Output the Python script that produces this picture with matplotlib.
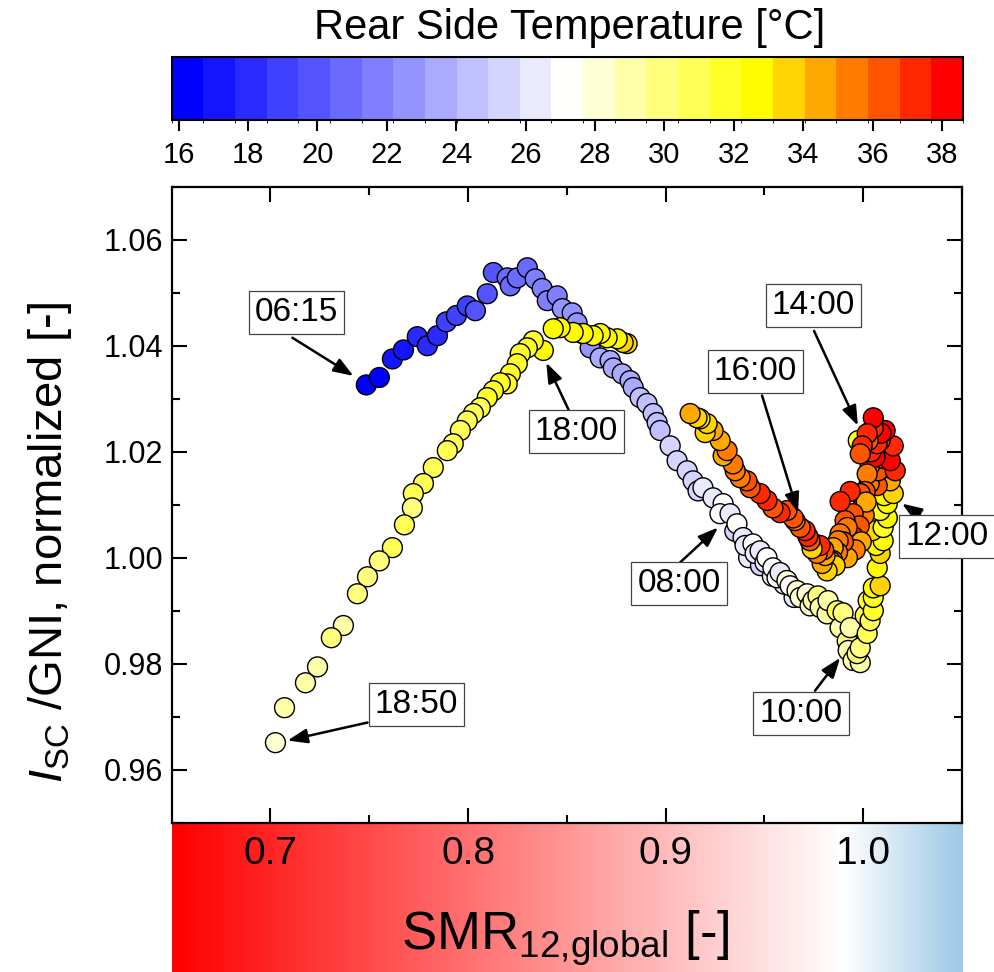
import numpy as np
import matplotlib
matplotlib.use("Agg")
import matplotlib.pyplot as plt
from matplotlib.colors import LinearSegmentedColormap, ListedColormap, BoundaryNorm
from matplotlib.cm import ScalarMappable

plt.rcParams['font.family'] = ['Liberation Sans', 'DejaVu Sans']
plt.rcParams['mathtext.fontset'] = 'custom'
plt.rcParams['mathtext.rm'] = 'Liberation Sans'
plt.rcParams['mathtext.it'] = 'Liberation Sans:italic'

# ---------------- data ----------------
# 06:15 - 08:00 (morning, cold)
smr_a = [0.7485, 0.7551, 0.7617, 0.7673, 0.7743, 0.7794, 0.7845, 0.7890, 0.7941, 0.7996,
         0.8037, 0.8097, 0.8128, 0.8198, 0.8214, 0.8249, 0.8300, 0.8340, 0.8375, 0.8401,
         0.8451, 0.8477, 0.8527, 0.8552, 0.8578, 0.8618, 0.8669, 0.8719, 0.8735, 0.8780,
         0.8820, 0.8836, 0.8871, 0.8906, 0.8937, 0.8957, 0.8972, 0.9023, 0.9058, 0.9109,
         0.9139, 0.9164, 0.9189, 0.9240, 0.9291]
isc_a = [1.0326, 1.0340, 1.0375, 1.0392, 1.0417, 1.0400, 1.0419, 1.0445, 1.0457, 1.0475,
         1.0466, 1.0498, 1.0538, 1.0528, 1.0513, 1.0528, 1.0547, 1.0526, 1.0508, 1.0485,
         1.0494, 1.0470, 1.0462, 1.0443, 1.0423, 1.0396, 1.0377, 1.0372, 1.0358, 1.0347,
         1.0334, 1.0321, 1.0302, 1.0291, 1.0272, 1.0255, 1.0240, 1.0211, 1.0183, 1.0164,
         1.0145, 1.0126, 1.0132, 1.0113, 1.0102]
t_a = [16.2, 16.5, 17.0, 17.4, 17.8, 18.0, 18.3, 18.6, 19.0, 19.3,
       19.6, 19.8, 20.1, 20.4, 20.6, 20.8, 21.0, 21.3, 21.5, 21.8,
       22.0, 22.2, 22.4, 22.6, 22.8, 23.0, 23.2, 23.4, 23.5, 23.7,
       23.9, 24.0, 24.2, 24.3, 24.5, 24.6, 24.8, 25.0, 25.2, 25.4,
       25.6, 25.8, 25.9, 26.2, 26.9]

# 08:00 - 10:00
smr_b = [0.9350, 0.9420, 0.9480, 0.9540, 0.9600, 0.9650,
         0.9275, 0.9326, 0.9361, 0.9392, 0.9402, 0.9442, 0.9453, 0.9478, 0.9503, 0.9513,
         0.9543, 0.9564, 0.9579, 0.9614, 0.9630, 0.9665, 0.9681, 0.9716, 0.9731, 0.9746,
         0.9771, 0.9782, 0.9817, 0.9822, 0.9868, 0.9883, 0.9898, 0.9919, 0.9934, 0.9924,
         0.9949, 0.9985, 0.9969, 0.9985]
isc_b = [1.0050, 1.0000, 0.9985, 0.9965, 0.9950, 0.9925,
         1.0083, 1.0083, 1.0064, 1.0038, 1.0023, 1.0026, 1.0008, 1.0013, 0.9991, 1.0000,
         0.9981, 0.9962, 0.9972, 0.9957, 0.9947, 0.9938, 0.9925, 0.9932, 0.9909, 0.9919,
         0.9928, 0.9906, 0.9894, 0.9919, 0.9900, 0.9868, 0.9896, 0.9843, 0.9868, 0.9825,
         0.9806, 0.9802, 0.9819, 0.9830]
t_b = [25.8, 26.2, 25.8, 26.2, 26.0, 26.4,
       27.1, 26.5, 27.2, 26.4, 26.0, 27.3, 26.3, 26.6, 26.0, 27.4,
       27.0, 27.6, 26.5, 27.8, 27.0, 28.0, 27.8, 28.3, 28.4, 28.6,
       29.5, 28.8, 29.0, 28.8, 30.6, 29.4, 30.0, 29.6, 29.0, 29.4,
       29.2, 29.0, 29.8, 30.1]

# 10:00 - 14:00
smr_c = [1.0020, 1.0010, 1.0035, 1.0025, 1.0051, 1.0051, 1.0051, 1.0086, 1.0071, 1.0086,
         1.0066, 1.0101, 1.0046, 1.0101, 1.0122, 1.0086, 1.0122, 1.0106, 1.0152, 1.0137,
         1.0071, 1.0030, 1.0122, 1.0076, 1.0035, 1.0162, 1.0122, 1.0101, 1.0137, 1.0060,
         1.0040, 1.0152, 1.0086, 1.0070, 1.0111, 1.0090, 0.9975, 1.0051, 1.0051]
isc_c = [0.9857, 0.9891, 0.9881, 0.9919, 0.9900, 0.9925, 0.9943, 0.9947, 0.9981, 1.0008,
         1.0023, 1.0032, 1.0051, 1.0057, 1.0075, 1.0089, 1.0102, 1.0117, 1.0121, 1.0145,
         1.0136, 1.0140, 1.0170, 1.0164, 1.0175, 1.0164, 1.0196, 1.0187, 1.0183, 1.0190,
         1.0200, 1.0211, 1.0221, 1.0215, 1.0240, 1.0235, 1.0221, 1.0245, 1.0264]
t_c = [30.6, 31.2, 31.0, 31.8, 31.5, 32.0, 32.4, 34.0, 33.0, 33.4,
       33.0, 32.6, 33.5, 32.2, 32.8, 32.0, 32.5, 32.6, 33.2, 34.2,
       36.0, 35.0, 35.2, 36.6, 36.2, 37.6, 36.2, 37.2, 38.0, 38.0,
       37.4, 37.0, 37.0, 36.8, 37.8, 37.8, 32.0, 37.6, 38.2]

# 14:00 - 17:00
smr_d = [1.0025, 1.0020, 0.9995, 0.9985, 1.0020, 1.0010, 1.0000, 0.9985, 1.0005, 1.0015,
         0.9934, 0.9949, 0.9980, 0.9950, 0.9990, 0.9960, 0.9883, 0.9908, 0.9919, 0.9920,
         0.9883, 0.9900, 0.9873, 0.9870, 0.9848, 0.9845, 0.9833, 0.9858, 0.9817, 0.9792,
         0.9807, 0.9800, 0.9767, 0.9760, 0.9782, 0.9741, 0.9731, 0.9720, 0.9706, 0.9681,
         0.9655, 0.9646, 0.9614, 0.9579, 0.9543, 0.9513, 0.9478, 0.9428, 0.9412, 0.9377,
         0.9352, 0.9341, 0.9291, 0.9311, 0.9276, 0.9240, 0.9200, 0.9210, 0.9174, 0.9159,
         0.9124]
isc_d = [1.0221, 1.0234, 1.0211, 1.0196, 1.0158, 1.0125, 1.0100, 1.0121, 1.0080, 1.0105,
         1.0125, 1.0083, 1.0060, 1.0040, 1.0030, 1.0015, 1.0106, 1.0070, 1.0057, 1.0000,
         1.0045, 1.0030, 1.0032, 1.0010, 1.0019, 0.9995, 0.9994, 0.9985, 0.9975, 0.9989,
         1.0004, 1.0015, 1.0008, 1.0025, 1.0023, 1.0017, 1.0032, 1.0040, 1.0051, 1.0057,
         1.0070, 1.0075, 1.0089, 1.0085, 1.0094, 1.0108, 1.0121, 1.0132, 1.0145, 1.0151,
         1.0164, 1.0177, 1.0192, 1.0202, 1.0221, 1.0240, 1.0236, 1.0253, 1.0262, 1.0264,
         1.0272]
t_d = [36.2, 37.0, 37.2, 36.2, 35.6, 36.6, 37.2, 36.0, 35.8, 34.4,
       37.4, 36.6, 36.4, 37.0, 34.8, 35.6, 36.8, 36.4, 35.6, 34.4,
       35.0, 36.0, 35.6, 35.2, 34.6, 35.0, 34.0, 33.2, 33.6, 34.8,
       34.4, 36.2, 35.4, 35.8, 37.0, 34.0, 36.4, 36.8, 37.2, 36.6,
       35.4, 36.4, 36.0, 37.2, 36.6, 37.2, 37.6, 36.0, 36.6, 35.6,
       35.4, 35.0, 34.4, 35.0, 34.6, 34.2, 33.4, 33.8, 33.0, 33.4,
       34.2]

# 17:30 - 18:50 (evening)
smr_e = [0.8805, 0.8785, 0.8755, 0.8704, 0.8669, 0.8633, 0.8583, 0.8532, 0.8466, 0.8431,
         0.8381, 0.8330, 0.8300, 0.8264, 0.8249, 0.8214, 0.8198, 0.8163, 0.8128, 0.8097,
         0.8062, 0.8027, 0.7996, 0.7961, 0.7925, 0.7895, 0.7824, 0.7774, 0.7723, 0.7718,
         0.7678, 0.7617, 0.7551, 0.7491, 0.7440, 0.7369, 0.7308, 0.7238, 0.7177, 0.7071,
         0.7025]
isc_e = [1.0404, 1.0406, 1.0413, 1.0415, 1.0423, 1.0419, 1.0423, 1.0425, 1.0434, 1.0432,
         1.0391, 1.0409, 1.0396, 1.0385, 1.0366, 1.0347, 1.0328, 1.0330, 1.0315, 1.0302,
         1.0283, 1.0272, 1.0258, 1.0240, 1.0215, 1.0202, 1.0170, 1.0140, 1.0121, 1.0094,
         1.0062, 1.0019, 0.9994, 0.9964, 0.9932, 0.9872, 0.9849, 0.9794, 0.9764, 0.9717,
         0.9651]
t_e = [34.0, 33.6, 33.0, 32.8, 32.6, 32.6, 32.5, 32.5, 32.4, 32.4,
       32.4, 32.2, 32.0, 32.0, 31.8, 31.8, 31.6, 31.5, 31.5, 31.4,
       31.2, 31.2, 31.0, 31.0, 30.9, 30.8, 30.8, 30.6, 30.8, 30.2,
       30.8, 30.6, 29.8, 30.0, 30.2, 29.4, 29.6, 29.2, 29.0, 28.8,
       28.0]

time_labels = ["06:15", "08:00", "10:00", "12:00", "14:00", "16:00", "18:00", "18:50"]
cbar_ticks = list(range(16, 39, 2))
smr_ticks = [0.7, 0.8, 0.9, 1.0]
y_ticks = [0.96, 0.98, 1.00, 1.02, 1.04, 1.06]

smr = smr_a + smr_b + smr_c + smr_d + smr_e
isc_gni = isc_a + isc_b + isc_c + isc_d + isc_e
temp_rear = t_a + t_b + t_c + t_d + t_e

# ---------------- colormaps ----------------
base = LinearSegmentedColormap.from_list(
    "bwyr", [(0.0, (0, 0, 1)), (0.5, (1, 1, 1)), (0.75, (1, 1, 0)), (1.0, (1, 0, 0))])
nlev = 25
cmap = ListedColormap(base(np.linspace(0, 1, nlev)))
bounds = np.linspace(15.8, 38.6, nlev + 1)
norm = BoundaryNorm(bounds, cmap.N)

smr_cmap = LinearSegmentedColormap.from_list(
    "smr", [(0.0, (1, 0, 0)), (0.85, (1, 1, 1)), (1.0, (0.62, 0.79, 0.90))])

# ---------------- figure ----------------
W, H = 994, 972
fig = plt.figure(figsize=(W / 100, H / 100), dpi=100)

L, R, T, B = 171.7, 962.0, 186.7, 822.7
ax = fig.add_axes([L / W, 1 - B / H, (R - L) / W, (B - T) / H])
ax.scatter(smr, isc_gni, c=temp_rear, cmap=cmap, norm=norm, s=205,
           edgecolors='black', linewidths=1.0, zorder=3)
ax.set_xlim(0.65, 1.05)
ax.set_ylim(0.95, 1.07)
ax.set_xticks(smr_ticks)
ax.set_xticks([0.75, 0.85, 0.95, 1.05], minor=True)
ax.set_yticks(y_ticks)
ax.set_yticks(np.arange(0.95, 1.0701, 0.01), minor=True)
ax.set_yticklabels([f"{v:.2f}" for v in y_ticks])
ax.tick_params(which='both', direction='in', top=True, right=True,
               labelbottom=False, width=1.5, labelsize=22, pad=6)
ax.tick_params(which='major', length=11)
ax.tick_params(which='minor', length=5.5)
for sp in ax.spines.values():
    sp.set_linewidth(1.6)

# annotations (box centre, arrow tail, arrow tip) in data coordinates
notes = [
    ("06:15", (0.7131, 1.0462), (0.7111, 1.0415), (0.7420, 1.0343)),
    ("08:00", (0.9068, 0.9951), (0.9073, 0.9991), (0.9265, 1.0057)),
    ("10:00", (0.9685, 0.9706), (0.9756, 0.9749), (0.9883, 0.9811)),
    ("12:00", (1.0424, 1.0040), (1.0439, 1.0043), (1.0196, 1.0102)),
    ("14:00", (0.9748, 1.0475), (0.9751, 1.0428), (0.9973, 1.0249)),
    ("16:00", (0.9453, 1.0351), (0.9488, 1.0306), (0.9670, 1.0085)),
    ("18:00", (0.8548, 1.0238), (0.8552, 1.0245), (0.8396, 1.0368)),
    ("18:50", (0.7739, 0.9723), (0.7491, 0.9689), (0.7086, 0.9655)),
]
for lab, c, tail, tip in notes:
    ax.annotate("", xy=tip, xytext=tail, zorder=5, annotation_clip=False,
                arrowprops=dict(arrowstyle="-|>,head_length=0.6,head_width=0.22",
                                mutation_scale=20, color='black', lw=1.8,
                                shrinkA=0, shrinkB=0))
    ax.text(c[0], c[1], lab, ha='center', va='center', fontsize=24, zorder=6,
            clip_on=False,
            bbox=dict(boxstyle='square,pad=0.18', fc='white', ec='#444444', lw=0.9))

fig.text(50 / W, 1 - 542 / H, r"$I_{\mathrm{SC}}$ /GNI, normalized [-]",
         rotation=90, ha='center', va='center', fontsize=34)

# ---------------- SMR gradient strip ----------------
ax2 = fig.add_axes([L / W, 0, (R - L) / W, (H - B) / H])
ax2.set_zorder(-1)
grad = np.linspace(0.65, 1.05, 600)[None, :]
ax2.imshow(grad, cmap=smr_cmap, vmin=0.65, vmax=1.05, aspect='auto',
           extent=[0.65, 1.05, 0, 1])
ax2.set_xlim(0.65, 1.05)
ax2.set_ylim(0, 1)
ax2.axis('off')
for v in smr_ticks:
    ax2.text(v, 0.79, f"{v:.1f}", ha='center', va='center', fontsize=28)
ax2.text(0.8495, 0.15, r"SMR$_{\text{12,global}}$ [-]", ha='center', va='baseline',
         fontsize=38)

# ---------------- colour bar ----------------
cax = fig.add_axes([171.6 / W, 1 - 120 / H, (963 - 171.6) / W, 63 / H])
sm = ScalarMappable(norm=norm, cmap=cmap)
cb = fig.colorbar(sm, cax=cax, orientation='horizontal', ticks=cbar_ticks)
cb.outline.set_linewidth(1.5)
cax.tick_params(labelsize=21, length=8, width=1.5, direction='out', pad=7)
cax.xaxis.set_ticks_position('bottom')
fig.text(570 / W, 1 - 28 / H, "Rear Side Temperature [°C]", ha='center', va='center',
         fontsize=30)

fig.savefig("out.png", dpi=100)
